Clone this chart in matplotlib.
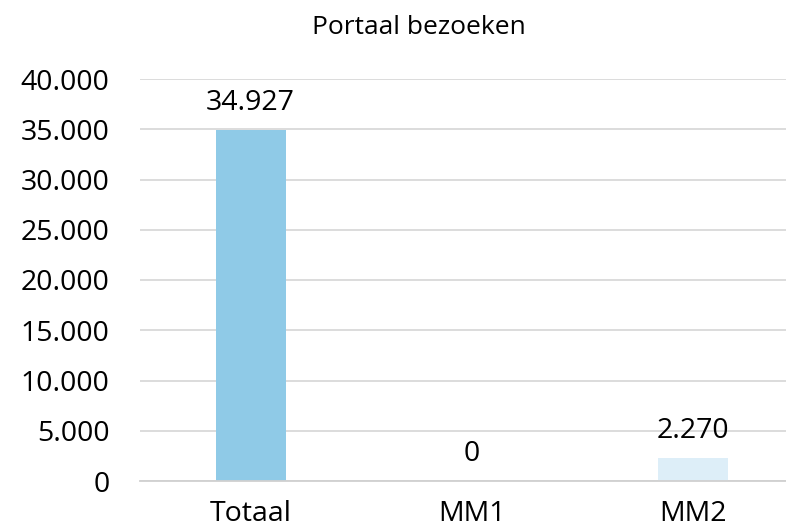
from matplotlib import pyplot as plt
import numpy as np

# Data
categories = ['Totaal', 'MM1', 'MM2']
visits = [34927, 0, 2270]
bar_colors = ['#8FCAE7', '#8FCAE7', '#DDEEF8']
yticks = np.arange(0, 40001, 5000)


def nl(v):
    # Dutch thousands separator
    return f'{v:,.0f}'.replace(',', '.')


plt.rcParams['font.family'] = ['Open Sans', 'DejaVu Sans']

fig = plt.figure(figsize=(7.86, 5.29), dpi=100)
ax = fig.add_axes([140 / 786, 1 - 481 / 529, 646 / 786, (481 - 79) / 529])

x = np.arange(len(categories))
ax.bar(x, visits, width=0.317, color=bar_colors, zorder=2)

for xi, v in zip(x, visits):
    ax.text(xi, v + 1300, nl(v), ha='center', va='bottom', fontsize=20.5, color='#000000')

ax.set_xlim(-0.5, 2.42)
ax.set_ylim(0, 40000)
ax.set_yticks(yticks)
ax.set_yticklabels([nl(t) for t in yticks], fontsize=20.5)
ax.set_xticks(x)
ax.set_xticklabels(categories, fontsize=20.5)
ax.tick_params(axis='both', length=0)
ax.tick_params(axis='y', pad=22)
ax.tick_params(axis='x', pad=14)

ax.grid(axis='y', color='#D9D9D9', linewidth=1.3, zorder=0)
for s in ['top', 'right', 'left']:
    ax.spines[s].set_visible(False)
ax.spines['bottom'].set_color('#D0D0D0')
ax.spines['bottom'].set_linewidth(1.3)

fig.text(419 / 786, 1 - 27 / 529, 'Portaal bezoeken', ha='center', va='center', fontsize=19)

plt.savefig('out.png', dpi=100)
